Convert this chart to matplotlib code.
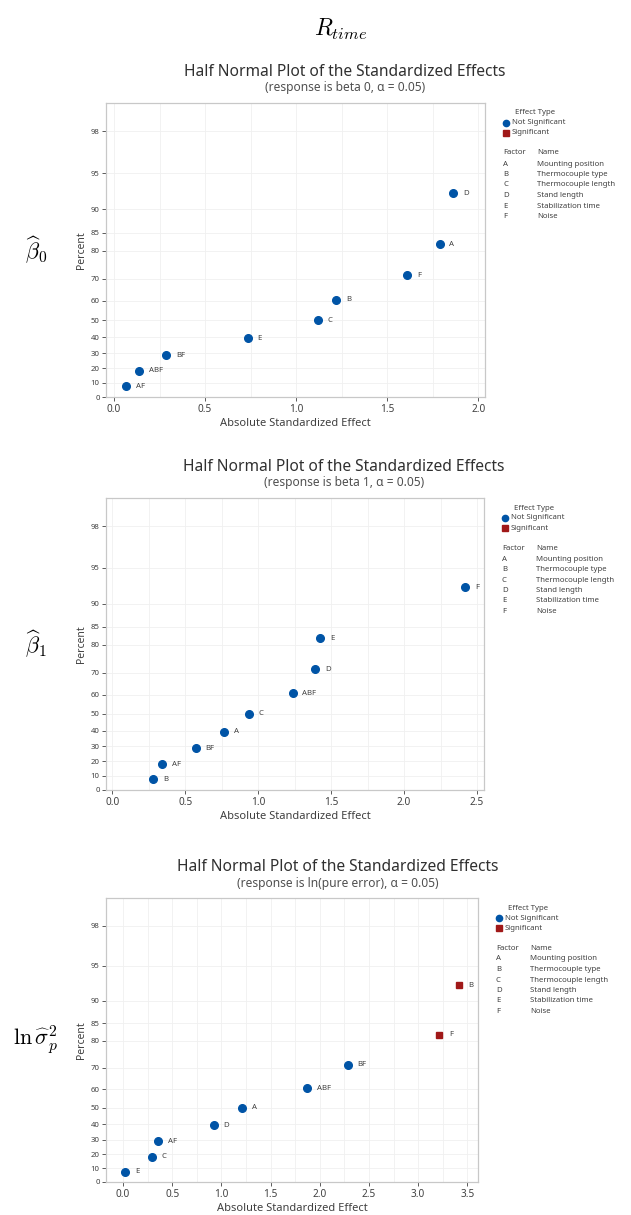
#half normal plots of standardized effects

import numpy as np
import matplotlib
matplotlib.use('Agg')
import matplotlib.pyplot as plt
from matplotlib.lines import Line2D
from statistics import NormalDist

plt.rcParams['font.family'] = ['Noto Sans', 'DejaVu Sans']
plt.rcParams['mathtext.fontset'] = 'cm'

# percent positions (same for all three panels, 9 effects)
percent = [7.4, 18.1, 28.7, 39.4, 50.0, 60.6, 71.3, 81.9, 92.6]

# beta 0
b0_terms = ['AF', 'ABF', 'BF', 'E', 'C', 'B', 'F', 'A', 'D']
b0_effect = [0.066, 0.139, 0.287, 0.735, 1.119, 1.221, 1.611, 1.788, 1.863]
b0_signif = [False] * 9

# beta 1
b1_terms = ['B', 'AF', 'BF', 'A', 'C', 'ABF', 'D', 'E', 'F']
b1_effect = [0.281, 0.340, 0.573, 0.767, 0.938, 1.237, 1.390, 1.425, 2.418]
b1_signif = [False] * 9

# ln(pure error)
pe_terms = ['E', 'C', 'AF', 'D', 'A', 'ABF', 'BF', 'F', 'B']
pe_effect = [0.024, 0.295, 0.359, 0.922, 1.214, 1.872, 2.282, 3.215, 3.415]
pe_signif = [False, False, False, False, False, False, False, True, True]

factor_codes = ['A', 'B', 'C', 'D', 'E', 'F']
factor_names = ['Mounting position', 'Thermocouple type', 'Thermocouple length',
                'Stand length', 'Stabilization time', 'Noise']
y_ticks = [0, 10, 20, 30, 40, 50, 60, 70, 80, 85, 90, 95, 98]

BLUE = '#0054a6'
RED = '#a01818'
GRAY = '#404040'
W, H = 631, 1215

nd = NormalDist()

def _f1(v):
    if not np.isfinite(v):
        return np.nan
    a = min(abs(v), 99.9999)
    return np.sign(v) * nd.inv_cdf(0.5 + a / 200.0)

def _i1(v):
    if not np.isfinite(v):
        return np.nan
    return np.sign(v) * 200.0 * (nd.cdf(abs(v)) - 0.5)

_fv = np.vectorize(_f1, otypes=[float])
_iv = np.vectorize(_i1, otypes=[float])

def _fwd(p):
    return _fv(np.asarray(p, dtype=float))

def _inv(z):
    return _iv(np.asarray(z, dtype=float))

def rect(left, top, right, bottom):
    return [left / W, 1 - bottom / H, (right - left) / W, (bottom - top) / H]

def legend(fig, x0, y0):
    fx = lambda x: x / W
    fy = lambda y: 1 - y / H
    kw = dict(fontsize=5.6, color=GRAY, va='center')
    fig.text(fx(x0 + 9), fy(y0), 'Effect Type', **kw)
    fig.add_artist(Line2D([fx(x0)], [fy(y0 + 10)], marker='o', ms=4.5, color=BLUE,
                          lw=0, transform=fig.transFigure))
    fig.text(fx(x0 + 6), fy(y0 + 10), 'Not Significant', **kw)
    fig.add_artist(Line2D([fx(x0)], [fy(y0 + 20)], marker='s', ms=4, color=RED,
                          lw=0, transform=fig.transFigure))
    fig.text(fx(x0 + 6), fy(y0 + 20), 'Significant', **kw)
    fig.text(fx(x0 - 3), fy(y0 + 40), 'Factor', **kw)
    fig.text(fx(x0 + 31), fy(y0 + 40), 'Name', **kw)
    for i, (c, n) in enumerate(zip(factor_codes, factor_names)):
        fig.text(fx(x0 - 3), fy(y0 + 51 + i * 10.5), c, **kw)
        fig.text(fx(x0 + 31), fy(y0 + 51 + i * 10.5), n, **kw)

def half_normal(fig, r, terms, effect, signif, xlim, xmax_tick, response, label, title_y):
    ax = fig.add_axes(rect(*r))
    ax.set_yscale('function', functions=(_fwd, _inv))
    for x, p, t, s in zip(effect, percent, terms, signif):
        if s:
            ax.plot(x, p, 's', color=RED, ms=5, zorder=3)
        else:
            ax.plot(x, p, 'o', color=BLUE, ms=5.5, zorder=3)
        ax.annotate(t, (x, p), xytext=(7, 0), textcoords='offset points',
                    fontsize=5.6, color=GRAY, va='center')
    ax.set_yticks(y_ticks)
    ax.set_yticklabels([str(v) for v in y_ticks])
    ax.yaxis.set_minor_locator(matplotlib.ticker.NullLocator())
    xt = np.arange(0, xmax_tick + 0.01, 0.5)
    ax.set_xticks(xt)
    ax.set_xticklabels(['%.1f' % v for v in xt])
    ax.set_xticks(np.arange(0, xmax_tick + 0.01, 0.25), minor=True)
    ax.set_ylim(0, 99)
    ax.set_xlim(*xlim)
    ax.tick_params(axis='x', which='minor', length=0)
    ax.tick_params(axis='x', labelsize=7.2, colors=GRAY, length=3, width=0.6, pad=2)
    ax.tick_params(axis='y', labelsize=5.6, colors=GRAY, length=3, width=0.6, pad=1.5)
    ax.grid(True, which='both', color='#f0f0f0', lw=0.6, zorder=0)
    for sp in ax.spines.values():
        sp.set_color('#c8c8c8')
        sp.set_linewidth(0.9)
    ax.set_xlabel('Absolute Standardized Effect', fontsize=8, color=GRAY, labelpad=2)
    ax.set_ylabel('Percent', fontsize=7.5, color=GRAY, labelpad=3)
    cx = (r[2] - 140) / W
    fig.text(cx, 1 - title_y / H, 'Half Normal Plot of the Standardized Effects',
             fontsize=11.2, color='#303030', ha='center', va='center')
    fig.text(cx, 1 - (title_y + 16) / H, '(response is %s, α = 0.05)' % response,
             fontsize=8.6, color='#505050', ha='center', va='center')
    fig.text(36 / W, 1 - (r[1] + r[3]) / 2 / H, label, fontsize=16,
             ha='center', va='center')
    legend(fig, r[2] + 21, r[1] + 10)
    return ax

fig = plt.figure(figsize=(W / 100, H / 100), dpi=100)
fig.text(341 / W, 1 - 29 / H, r'$R_{time}$', fontsize=17, ha='center', va='center')

half_normal(fig, (106, 103, 485, 397), b0_terms, b0_effect, b0_signif,
            (-0.044, 2.037), 2.0, 'beta 0', r'$\widehat{\beta}_0$', 72)
half_normal(fig, (106, 498, 484, 790), b1_terms, b1_effect, b1_signif,
            (-0.043, 2.548), 2.5, 'beta 1', r'$\widehat{\beta}_1$', 467)
half_normal(fig, (106, 898, 478, 1182), pe_terms, pe_effect, pe_signif,
            (-0.173, 3.608), 3.5, 'ln(pure error)', r'$\ln\widehat{\sigma}_p^2$', 867)

fig.savefig('out.png', dpi=100)
